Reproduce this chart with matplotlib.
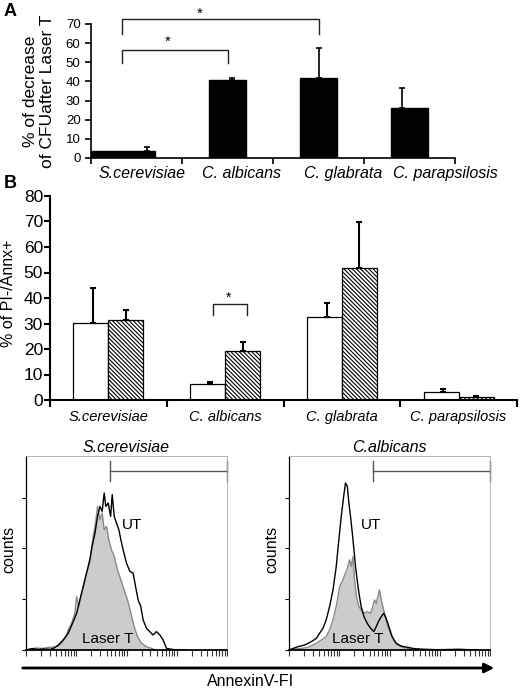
import numpy as np
import matplotlib.pyplot as plt
from matplotlib.patches import FancyArrowPatch

plt.rcParams['font.family'] = ['Liberation Sans', 'DejaVu Sans']
plt.rcParams['hatch.linewidth'] = 0.8

# Panel A: % of decrease of CFU after laser treatment
species = ['S.cerevisiae', 'C. albicans', 'C. glabrata', 'C. parapsilosis']
cfu_decrease = [3.8, 40.9, 41.6, 26.3]
cfu_err = [2.1, 1.0, 16.0, 10.4]

# Panel B: % of PI-/Annx+ cells, untreated vs laser treated
ut_pos = [30.1, 6.3, 32.7, 3.0]
ut_err = [13.7, 0.6, 5.2, 1.2]
laser_pos = [31.2, 19.2, 51.6, 1.3]
laser_err = [4.1, 3.7, 18.3, 0.3]

# Panel C: AnnexinV histograms (channel 0-100 over 4 log decades, counts)
sc_ut_x = [0, 3, 6, 9, 12, 14, 16.1, 18.5, 21, 23.5, 25.2, 26.8, 28.5, 30.1, 31.8,
           32.9, 34.3, 35.6, 36.8, 37.9, 38.9, 39.7, 40.9, 42.1, 42.9, 43.9, 45,
           46.2, 47.2, 48.3, 50, 51.7, 53.3, 54.5, 55.8, 57.1, 58.3, 59.9, 61.6,
           63.2, 64.9, 66.6, 68.2, 69.9, 72.4, 75.7, 80]
sc_ut_y = [0, 1.5, 0.5, 1, 0.5, 2, 4.9, 9.9, 16.4, 28, 36.2, 49.3, 62.5, 75.7, 88.8,
           102, 115, 131.6, 141.4, 136.5, 154.6, 141.4, 144.7, 131.6, 153, 131.6, 125,
           118.4, 108.6, 98.7, 85.5, 77.3, 75.7, 62.5, 49.3, 42.8, 29.6, 21.4, 18.1,
           14.8, 18.1, 14.8, 9.9, 1.6, 0.7, 0, 0]
sc_lt_x = [0, 3, 5, 8, 11, 14, 16, 17.7, 19.4, 21, 22.7, 24.3, 25.2, 26.3, 27.6,
           29.3, 31, 32.3, 33.4, 34.6, 35.6, 36.8, 37.9, 38.9, 40.1, 41.2, 42.5,
           43.9, 45.5, 47.2, 48.8, 50.5, 52.2, 53.8, 55.5, 57.5, 59.9, 62.4, 64.9]
sc_lt_y = [0, 1, 2, 1.5, 2.5, 3, 4, 6.6, 11.5, 19.7, 26.3, 36.2, 52.6, 42.8, 55.9,
           69.1, 82.2, 95.4, 111.8, 125, 141.4, 128.3, 134.9, 118.4, 121.7, 108.6,
           98.7, 92.1, 78.9, 69.1, 59.2, 49.3, 36.2, 23, 13.2, 6.6, 3.3, 1.6, 0]
ca_ut_x = [0, 2, 4.5, 7.8, 11.1, 13.6, 15.2, 16.9, 18.5, 20.2, 21.9, 23.5, 24.8, 26,
           27.2, 28.1, 29, 29.8, 30.6, 31.5, 32.3, 33.1, 33.9, 34.8, 35.9, 37.3,
           38.9, 40.6, 42.2, 43.4, 44.5, 45.9, 47.2, 48.3, 49.7, 51.3, 53.3, 55.8,
           59.1, 62.4, 67.4, 74, 84.8, 93.9]
ca_ut_y = [0, 1.5, 3.3, 4.9, 8.2, 11.5, 16.4, 21.4, 29.6, 42.8, 59.2, 82.2, 108.6,
           131.6, 151.3, 164.5, 161.2, 144.7, 131.6, 115.1, 98.7, 82.2, 69.1, 55.9,
           42.8, 32.9, 26.3, 21.4, 18.1, 23, 28, 32.9, 36.2, 31.3, 23, 13.2, 6.6,
           3.9, 2.6, 1.3, 0.7, 0.3, 0.7, 0]
ca_lt_x = [0, 3, 6, 9.4, 13.6, 16.1, 18.5, 20.2, 21.9, 23.5, 25.2, 26.8, 28.1, 29.3,
           30.1, 31, 31.8, 32.6, 33.6, 34.8, 35.9, 37.3, 38.9, 40.6, 41.7, 42.5,
           43.4, 44.2, 45, 45.9, 46.7, 47.8, 49.2, 50.8, 52.5, 54.1, 56.6, 59.9, 64.1]
ca_lt_y = [0, 1, 1.5, 2.6, 6.6, 9.9, 13.2, 19.7, 29.6, 42.8, 62.5, 69.1, 75.7, 82.2,
           88.8, 82.2, 92.1, 69.1, 52.6, 42.8, 39.5, 36.2, 37.8, 36.2, 42.8, 49.3,
           46, 52.6, 59.2, 49.3, 42.8, 32.9, 23, 14.8, 8.2, 4.9, 2.6, 1.3, 0]

W, H = 520, 689
fig = plt.figure(figsize=(W / 100, H / 100), dpi=100)


def box(x0, y0, x1, y1):
    # pixel box -> figure fraction rect
    return [x0 / W, 1 - y1 / H, (x1 - x0) / W, (y1 - y0) / H]


# ---------------- Panel A ----------------
axA = fig.add_axes(box(91, 24, 455, 158))
pos = np.arange(len(species))
widths = [0.7, 0.4, 0.4, 0.4]
shift = [-0.15, 0, 0, 0]
err_shift = [0.12, 0.05, 0, -0.08]
axA.bar(pos + np.array(shift), cfu_decrease, width=widths, color='black',
        edgecolor='black')
axA.errorbar(pos + np.array(err_shift), cfu_decrease,
             yerr=[np.zeros(4), cfu_err], fmt='none', ecolor='black',
             elinewidth=1.2, capsize=2.5, capthick=1.2)
axA.set_xlim(-0.5, 3.5)
axA.set_ylim(0, 70)
axA.set_yticks(range(0, 80, 10))
axA.spines[['top', 'right']].set_visible(False)
axA.spines[['left', 'bottom']].set_linewidth(1.2)
axA.tick_params(axis='y', direction='out', length=4, width=1.2, labelsize=9.5)
axA.set_xticks(np.arange(-0.5, 4, 1), minor=True)
axA.set_xticks([0.06, 1.15, 2.27, 3.39])
axA.set_xticklabels(species, fontstyle='italic', fontsize=11.5)
axA.tick_params(axis='x', which='major', length=0, pad=6)
axA.tick_params(axis='x', which='minor', direction='out', length=4, width=1.2)
axA.set_ylabel('% of decrease\nof CFUafter Laser T', fontsize=12.5,
               linespacing=1.15)
axA.yaxis.set_label_coords((55 - 91) / 364, 0.5)
# significance brackets
for x_end, y_low, y_top, x_star, y_star in [(1.0, 49.5, 56.4, 0.34, 60.5),
                                              (2.0, 65.0, 72.6, 0.69, 75.5)]:
    axA.plot([-0.16, -0.16, x_end, x_end], [y_low, y_top, y_top, y_low],
             color='#222222', lw=1, clip_on=False)
    axA.text(x_star, y_star, '*', ha='center', va='center', fontsize=11,
             clip_on=False)

fig.text(10 / W, 1 - 12 / H, 'A', fontsize=13, fontweight='bold',
         ha='center', va='center')
fig.text(10 / W, 1 - 184 / H, 'B', fontsize=13, fontweight='bold',
         ha='center', va='center')

# ---------------- Panel B ----------------
axB = fig.add_axes(box(50, 196, 517, 400))
bw = 0.3
axB.bar(pos - bw / 2, ut_pos, width=bw, color='white', edgecolor='black', lw=0.9)
axB.bar(pos + bw / 2, laser_pos, width=bw, color='white', edgecolor='black',
        lw=0.9, hatch='\\\\\\\\\\\\\\\\')
axB.errorbar(pos - bw / 2 + 0.02, ut_pos, yerr=[np.zeros(4), ut_err], fmt='none',
             ecolor='black', elinewidth=1.5, capsize=2.5, capthick=1.5)
axB.errorbar(pos + bw / 2, laser_pos, yerr=[np.zeros(4), laser_err], fmt='none',
             ecolor='black', elinewidth=1.5, capsize=2.5, capthick=1.5)
axB.set_xlim(-0.5, 3.5)
axB.set_ylim(0, 80)
axB.set_yticks(range(0, 90, 10))
axB.spines[['top', 'right']].set_visible(False)
axB.spines[['left', 'bottom']].set_linewidth(1.5)
axB.tick_params(axis='y', direction='out', length=4, width=1.5, labelsize=12.5,
                pad=1)
axB.set_xticks(np.arange(-0.5, 4, 1), minor=True)
axB.set_xticks(pos)
axB.set_xticklabels(species, fontstyle='italic', fontsize=10.5)
axB.tick_params(axis='x', which='major', length=0, pad=7)
axB.tick_params(axis='x', which='minor', direction='out', length=5, width=1.5)
axB.set_ylabel('% of PI-/Annx+', fontsize=11.5)
axB.yaxis.set_label_coords((16 - 50) / 467, (400 - 293) / 204)
axB.plot([0.9, 0.9, 1.19, 1.19], [33.3, 37.5, 37.5, 33.3], color='#222222', lw=1)
axB.text(1.025, 39.9, '*', ha='center', va='center', fontsize=10)

# ---------------- Panel C ----------------
log_ticks = [25 * (d + np.log10(k)) for d in range(4) for k in range(1, 10)] + [100]


def histogram(ax, ut_x, ut_y, lt_x, lt_y, title, ut_xy, lt_xy):
    ax.fill_between(lt_x, lt_y, color='#cccccc', lw=0)
    ax.plot(lt_x, lt_y, color='#8a8a8a', lw=1)
    ax.plot(ut_x, ut_y, color='black', lw=1)
    ax.set_xlim(0, 100)
    ax.set_ylim(0, 191)
    ax.set_yticks([0, 50, 100, 150])
    ax.set_yticklabels([])
    ax.set_xticks([])
    ax.set_xticks(log_ticks, minor=True)
    ax.tick_params(axis='x', which='minor', direction='out', length=4,
                   width=0.8, color='#333333')
    ax.tick_params(axis='y', direction='out', length=3, width=0.8)
    ax.spines[['top', 'right']].set_color('#aaaaaa')
    ax.spines[['top', 'right']].set_linewidth(0.6)
    ax.spines['left'].set_linewidth(0.9)
    ax.spines['bottom'].set_linewidth(1.3)
    # gate marker
    ax.plot([41.7, 100], [176, 176], color='#555555', lw=1, clip_on=False)
    for gx in (41.7, 100):
        ax.plot([gx, gx], [166, 186], color='#555555', lw=1, clip_on=False)
    ax.set_title(title, fontstyle='italic', fontsize=11.5, pad=3)
    ax.set_ylabel('counts', fontsize=11.5)
    ax.yaxis.set_label_coords(-10 / 201, 0.52)
    ax.text(ut_xy[0], ut_xy[1], 'UT', fontsize=11, ha='center', va='center')
    ax.text(lt_xy[0], lt_xy[1], 'Laser T', fontsize=11, ha='center', va='center')


axC1 = fig.add_axes(box(26, 456, 227, 650))
histogram(axC1, sc_ut_x, sc_ut_y, sc_lt_x, sc_lt_y, 'S.cerevisiae',
          (52.7, 123), (40.8, 11))
axC2 = fig.add_axes(box(289, 456, 490, 650))
histogram(axC2, ca_ut_x, ca_ut_y, ca_lt_x, ca_lt_y, 'C.albicans',
          (40.8, 123), (34.3, 11))

fig.add_artist(FancyArrowPatch((20 / W, 1 - 668 / H), (497 / W, 1 - 668 / H),
                               transform=fig.transFigure, arrowstyle='-|>',
                               mutation_scale=14, lw=2, color='black'))
fig.text(251 / W, 1 - 682 / H, 'AnnexinV-FI', fontsize=11.5, ha='center',
         va='center')

fig.savefig('out.png', dpi=100)
